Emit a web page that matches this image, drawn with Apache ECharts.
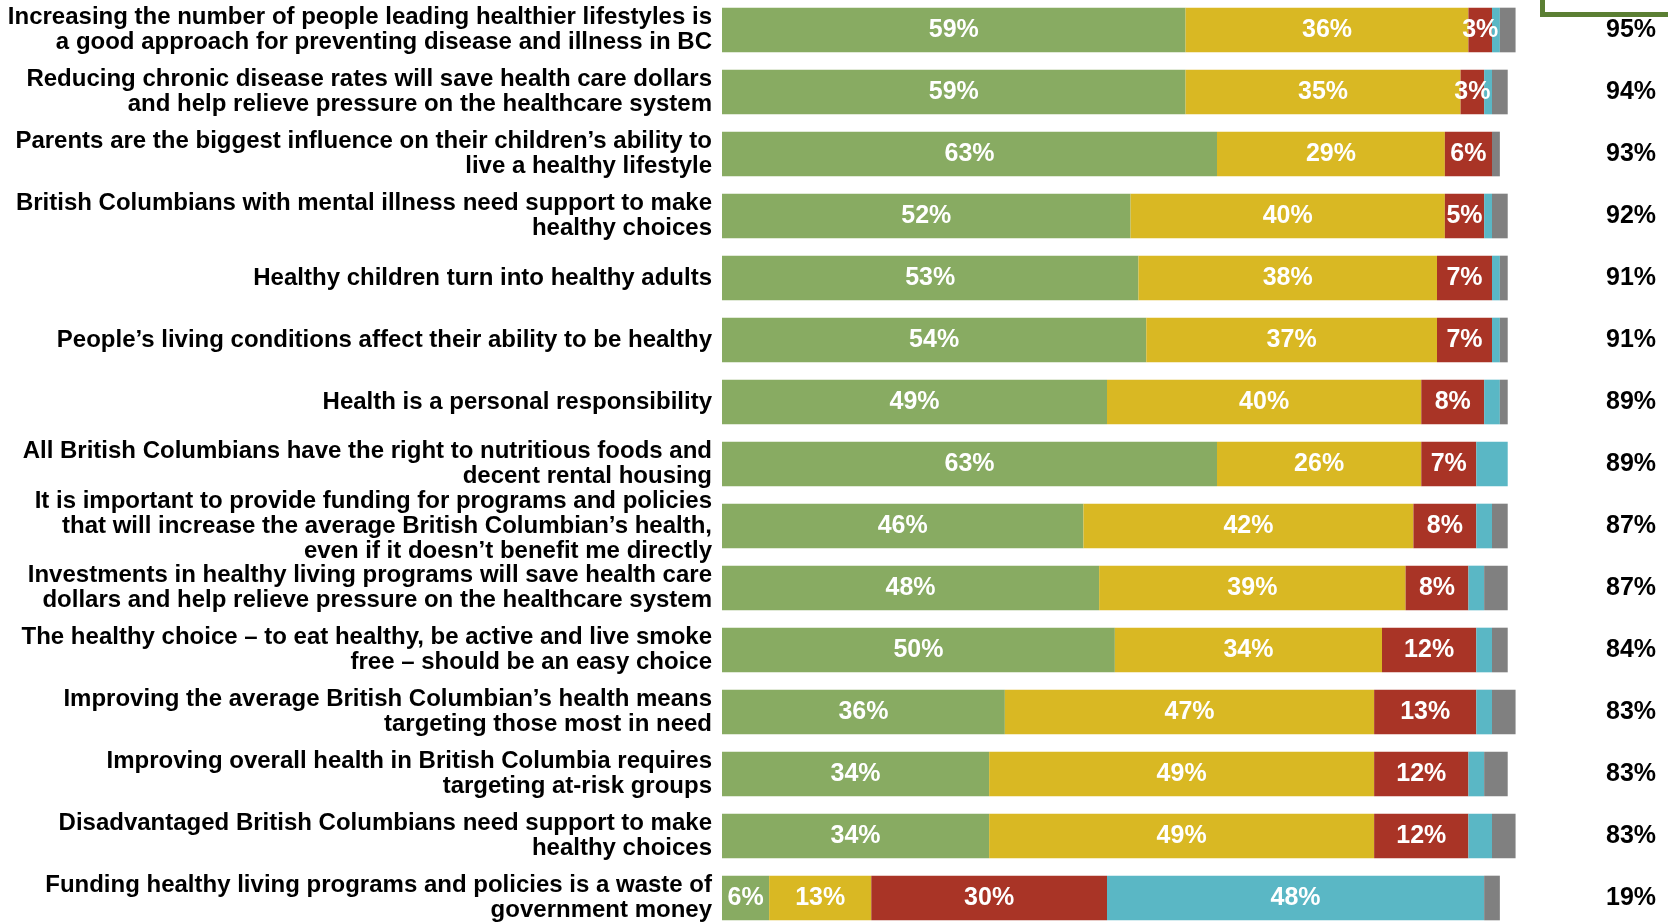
<!DOCTYPE html>
<html>
<head>
<meta charset="utf-8">
<title>Healthy living attitudes</title>
<script src="https://cdn.jsdelivr.net/npm/echarts@6/dist/echarts.min.js"></script>
<style>
  html, body { margin: 0; padding: 0; background: #fff; overflow: hidden; }
  /* the plot runs a little past the page at the bottom, like the original slide */
  #chart { width: 1668px; height: 930px; margin-top: -1px; }
</style>
</head>
<body>
<div id="chart"></div>
<script>
// statements, top to bottom
const statements = [
  'Increasing the number of people leading healthier lifestyles is\na good approach for preventing disease and illness in BC',
  'Reducing chronic disease rates will save health care dollars\nand help relieve pressure on the healthcare system',
  'Parents are the biggest influence on their children\u2019s ability to\nlive a healthy lifestyle',
  'British Columbians with mental illness need support to make\nhealthy choices',
  'Healthy children turn into healthy adults',
  'People\u2019s living conditions affect their ability to be healthy',
  'Health is a personal responsibility',
  'All British Columbians have the right to nutritious foods and\ndecent rental housing',
  'It is important to provide funding for programs and policies\nthat will increase the average British Columbian\u2019s health,\neven if it doesn\u2019t benefit me directly',
  'Investments in healthy living programs will save health care\ndollars and help relieve pressure on the healthcare system',
  'The healthy choice \u2013 to eat healthy, be active and live smoke\nfree \u2013 should be an easy choice',
  'Improving the average British Columbian\u2019s health means\ntargeting those most in need',
  'Improving overall health in British Columbia requires\ntargeting at-risk groups',
  'Disadvantaged British Columbians need support to make\nhealthy choices',
  'Funding healthy living programs and policies is a waste of\ngovernment money'
]

const stronglyAgree    = [59, 59, 63, 52, 53, 54, 49, 63, 46, 48, 50, 36, 34, 34, 6]
const somewhatAgree    = [36, 35, 29, 40, 38, 37, 40, 26, 42, 39, 34, 47, 49, 49, 13]
const somewhatDisagree = [3, 3, 6, 5, 7, 7, 8, 7, 8, 8, 12, 13, 12, 12, 30]
const stronglyDisagree = [1, 1, 0, 1, 1, 1, 2, 4, 2, 2, 2, 2, 2, 3, 48]
const dontKnow         = [2, 2, 1, 2, 1, 1, 1, 0, 2, 3, 2, 3, 3, 3, 2]
const totalAgree       = [95, 94, 93, 92, 91, 91, 89, 89, 87, 87, 84, 83, 83, 83, 19]

const FONT = '"Liberation Sans", Arial, sans-serif'

function makeSeries (name, data, color, minLabel) {
  return {
    name: name,
    type: 'bar',
    stack: 'total',
    barWidth: '72%',
    data: data,
    itemStyle: { color: color },
    label: {
      show: minLabel !== null,
      position: 'inside',
      color: '#fff',
      fontWeight: 'bold',
      fontSize: 25,
      fontFamily: FONT,
      formatter: p => (minLabel !== null && p.value >= minLabel) ? p.value + '%' : ''
    }
  }
}

const chart = echarts.init(document.getElementById('chart'))

chart.setOption({
  animation: false,
  grid: { left: 722, width: 825, top: 0, bottom: 0 },
  xAxis: {
    type: 'value',
    min: 0,
    max: 105,
    show: false
  },
  yAxis: [
    {
      type: 'category',
      inverse: true,
      data: statements,
      axisLine: { show: false },
      axisTick: { show: false },
      axisLabel: {
        margin: 10,
        align: 'right',
        color: '#000',
        fontWeight: 'bold',
        fontSize: 24,
        lineHeight: 25,
        fontFamily: FONT
      }
    },
    {
      type: 'category',
      inverse: true,
      position: 'right',
      data: totalAgree.map(v => v + '%'),
      axisLine: { show: false },
      axisTick: { show: false },
      axisLabel: {
        margin: 84,
        align: 'center',
        color: '#000',
        fontWeight: 'bold',
        fontSize: 25,
        fontFamily: FONT
      }
    }
  ],
  series: [
    makeSeries('Strongly agree', stronglyAgree, '#88ab62', 1),
    makeSeries('Somewhat agree', somewhatAgree, '#d9b823', 1),
    makeSeries('Somewhat disagree', somewhatDisagree, '#a93426', 1),
    makeSeries('Strongly disagree', stronglyDisagree, '#5ab7c5', 10),
    makeSeries('Don\u2019t know', dontKnow, '#808080', null)
  ],
  graphic: [
    {
      type: 'rect',
      left: 1540,
      top: -40,
      shape: { width: 200, height: 53 },
      style: { fill: '#fff', stroke: '#5b7f33', lineWidth: 5 }
    }
  ]
})
</script>
</body>
</html>
